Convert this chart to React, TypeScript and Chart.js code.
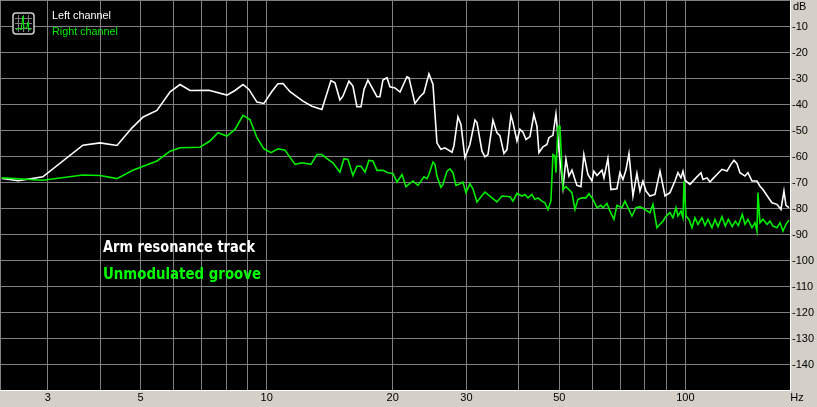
import React, { useEffect, useRef } from "react";
import { Chart, registerables } from "chart.js";

Chart.register(...registerables);

// Left channel (white) – frequency (Hz) and level (dB)
const leftFreq = [2.33, 2.55, 2.92, 3.64, 4.0, 4.39, 4.77, 5.07, 5.47, 5.88, 6.21, 6.56, 7.28, 8.04, 8.4, 8.78, 9.07, 9.48, 9.85, 10.3, 10.64, 10.94, 11.37, 12.21, 12.83, 13.55, 14.24, 14.56, 14.96, 15.21, 15.72, 16.07, 16.43, 16.8, 17.08, 17.45, 18.34, 18.64, 18.95, 19.38, 19.7, 20.25, 20.82, 21.63, 21.87, 22.6, 23.23, 23.75, 24.41, 24.96, 25.51, 26.07, 26.65, 27.71, 28.01, 28.63, 29.11, 29.75, 30.58, 31.44, 31.79, 32.68, 33.22, 33.77, 34.71, 35.48, 36.07, 36.87, 37.49, 38.32, 38.75, 39.61, 40.26, 40.94, 41.63, 42.55, 43.47, 44.21, 44.7, 45.7, 46.71, 47.22, 48.28, 49.08, 49.35, 49.89, 51.02, 51.86, 52.72, 53.6, 54.49, 55.08, 56.31, 57.23, 58.51, 59.81, 60.47, 61.5, 63.22, 63.92, 65.31, 66.42, 68.63, 69.78, 70.95, 72.12, 73.34, 74.97, 76.61, 77.91, 79.19, 80.52, 82.3, 84.6, 86.98, 89.42, 91.88, 94.45, 96.01, 97.61, 98.7, 99.79, 102.57, 106.0, 108.96, 110.17, 112.61, 114.49, 116.39, 118.99, 122.3, 125.71, 128.5, 130.64, 132.81, 135.03, 138.78, 141.09, 144.25, 148.26, 150.72, 153.22, 156.63, 161.0, 165.49, 169.16, 171.99, 173.9, 176.8];
const leftDb = [-68.4, -69.3, -67.8, -55.6, -54.7, -55.7, -48.9, -44.7, -42.2, -35.0, -32.2, -34.5, -34.4, -36.3, -34.5, -32.2, -34.1, -39.0, -39.5, -34.8, -31.9, -31.8, -35.0, -38.6, -40.6, -41.8, -30.7, -31.5, -38.2, -36.7, -30.9, -32.8, -40.8, -40.8, -34.1, -30.5, -36.9, -36.9, -30.5, -29.6, -33.1, -33.5, -35.1, -29.2, -29.6, -39.5, -36.9, -35.4, -28.1, -32.2, -54.7, -57.2, -56.6, -58.3, -55.8, -44.7, -47.6, -60.4, -55.3, -45.9, -46.9, -57.9, -60.1, -59.2, -45.9, -50.8, -51.9, -58.8, -57.3, -44.1, -46.9, -54.0, -49.5, -50.6, -53.4, -52.3, -43.8, -48.3, -58.5, -56.2, -55.3, -52.7, -51.8, -43.5, -47.6, -57.2, -72.0, -61.1, -67.5, -65.2, -68.8, -71.1, -71.6, -59.2, -66.9, -69.4, -65.6, -67.3, -65.2, -68.2, -60.8, -72.7, -72.4, -66.2, -68.8, -65.2, -58.8, -75.2, -66.5, -73.3, -69.4, -73.3, -75.2, -74.6, -65.6, -75.2, -73.9, -69.4, -66.2, -68.2, -65.6, -69.1, -70.7, -68.2, -66.2, -68.8, -68.2, -69.8, -68.5, -66.9, -64.9, -65.6, -63.0, -61.4, -62.7, -66.2, -67.5, -66.2, -69.4, -69.4, -71.4, -72.7, -75.0, -77.8, -78.4, -80.4, -73.3, -78.8, -79.7];

// Right channel (green)
const rightFreq = [2.33, 2.92, 3.64, 4.0, 4.39, 4.79, 5.47, 5.88, 6.21, 6.93, 7.32, 7.65, 8.04, 8.4, 8.78, 9.12, 9.48, 9.85, 10.24, 10.64, 11.06, 11.69, 12.14, 12.76, 13.19, 13.55, 13.93, 14.4, 14.96, 15.3, 15.64, 16.07, 16.43, 16.8, 17.18, 17.55, 17.94, 18.34, 18.95, 19.49, 20.03, 20.48, 21.05, 21.51, 22.35, 22.98, 23.75, 24.15, 24.41, 24.96, 25.23, 25.51, 26.07, 26.37, 26.96, 27.41, 27.86, 28.32, 28.8, 29.43, 29.92, 30.58, 31.09, 31.79, 32.68, 33.22, 34.14, 35.48, 36.48, 38.11, 38.75, 39.61, 40.71, 41.4, 42.09, 43.0, 43.72, 44.46, 45.45, 46.2, 46.97, 47.75, 48.28, 48.82, 49.08, 49.63, 50.17, 50.74, 51.02, 51.86, 53.6, 54.49, 55.39, 56.62, 57.89, 58.86, 60.16, 61.5, 62.87, 63.57, 64.96, 66.05, 67.52, 68.63, 70.56, 71.74, 72.94, 74.56, 76.21, 77.91, 80.08, 82.3, 83.67, 85.53, 86.98, 88.45, 89.42, 90.89, 91.88, 93.42, 94.98, 96.01, 97.61, 98.7, 99.25, 100.35, 102.0, 103.71, 105.42, 107.18, 109.56, 111.38, 113.24, 115.76, 117.69, 119.65, 122.3, 124.56, 126.64, 129.45, 131.62, 133.81, 136.78, 138.78, 141.09, 144.25, 146.65, 148.26, 149.08, 150.72, 153.22, 156.63, 159.25, 161.89, 165.49, 168.27, 171.05, 173.9, 176.8];
const rightDb = [-68.2, -69.1, -67.1, -67.3, -68.5, -65.3, -61.7, -57.9, -56.6, -56.4, -54.0, -50.8, -52.1, -49.5, -44.1, -45.7, -52.7, -57.0, -58.5, -57.0, -57.5, -63.0, -62.4, -63.0, -59.2, -59.2, -60.8, -62.4, -66.0, -60.8, -61.1, -67.3, -63.7, -63.7, -66.0, -61.5, -61.7, -65.3, -65.3, -66.2, -66.5, -69.8, -66.9, -71.6, -69.4, -71.1, -67.8, -68.5, -66.9, -62.1, -63.0, -67.5, -71.8, -70.7, -65.6, -64.7, -66.2, -71.1, -70.7, -69.8, -73.9, -70.5, -72.4, -77.5, -75.0, -73.7, -75.2, -77.5, -75.2, -75.5, -77.2, -74.2, -75.2, -74.6, -75.9, -74.6, -76.5, -75.9, -77.2, -77.8, -80.4, -77.0, -59.2, -59.8, -66.2, -48.3, -48.3, -65.0, -72.7, -71.6, -73.9, -80.4, -76.5, -75.9, -75.9, -74.3, -76.5, -79.7, -78.8, -79.7, -78.1, -81.0, -84.2, -78.8, -79.7, -77.2, -79.7, -82.9, -79.7, -79.3, -80.4, -81.7, -78.4, -87.4, -86.1, -84.9, -83.6, -82.3, -81.6, -83.6, -79.7, -82.9, -81.0, -83.6, -69.4, -82.9, -84.2, -87.4, -83.6, -86.1, -83.6, -86.6, -84.2, -87.4, -84.2, -87.0, -83.2, -86.8, -84.2, -87.0, -84.9, -86.6, -82.3, -86.1, -84.2, -87.4, -85.5, -88.7, -73.9, -85.5, -84.2, -86.1, -84.9, -86.8, -87.4, -85.5, -88.7, -86.1, -84.5];

const xGridValues = [3, 4, 5, 6, 7, 8, 9, 10, 20, 30, 40, 50, 60, 70, 80, 90, 100];
const xTickLabels = [3, 5, 10, 20, 30, 50, 100];
const yTickLabels = [-10, -20, -30, -40, -50, -60, -70, -80, -90, -100, -110, -120, -130, -140];
const seriesNames = ["Left channel", "Right channel"];
const annotations = ["Arm resonance track", "Unmodulated groove"];

const WHITE = "#ffffff";
const GREEN = "#00ee00";

export default function App() {
  const ref = useRef<HTMLCanvasElement | null>(null);

  useEffect(() => {
    document.body.style.margin = "0";
    const canvas = ref.current;
    if (!canvas) return;

    const framePlugin = {
      id: "frame",
      beforeDraw(chart: any) {
        const { ctx, chartArea: a, width, height } = chart;
        ctx.save();
        ctx.fillStyle = "#d4d0c8";
        ctx.fillRect(0, 0, width, height);
        ctx.fillStyle = "#000000";
        ctx.fillRect(a.left, a.top, a.right - a.left, a.bottom - a.top);
        ctx.restore();
      },
      afterDraw(chart: any) {
        const { ctx, chartArea: a } = chart;
        const xs = chart.scales.x;
        const ys = chart.scales.y;
        ctx.save();
        // sunken frame
        ctx.lineWidth = 1;
        ctx.strokeStyle = "#808080";
        ctx.beginPath();
        ctx.moveTo(a.left - 0.5, a.bottom);
        ctx.lineTo(a.left - 0.5, a.top - 0.5);
        ctx.lineTo(a.right, a.top - 0.5);
        ctx.stroke();
        ctx.strokeStyle = "#ffffff";
        ctx.beginPath();
        ctx.moveTo(a.left - 1, a.bottom + 0.5);
        ctx.lineTo(a.right + 0.5, a.bottom + 0.5);
        ctx.lineTo(a.right + 0.5, a.top - 1);
        ctx.stroke();

        // axis labels
        ctx.fillStyle = "#000000";
        ctx.font = "11px 'Liberation Sans', Arial, sans-serif";
        ctx.textBaseline = "middle";
        ctx.textAlign = "left";
        yTickLabels.forEach((v) => {
          ctx.fillText(String(v), a.right + 2, ys.getPixelForValue(v) + 0.5);
        });
        ctx.fillText("dB", a.right + 3, 7);
        ctx.textAlign = "center";
        xTickLabels.forEach((v) => {
          ctx.fillText(String(v), xs.getPixelForValue(v), a.bottom + 7.5);
        });
        ctx.fillText("Hz", a.right + 7, a.bottom + 8);

        // legend icon
        const ix = 13, iy = 13, is = 21;
        ctx.fillStyle = "#000000";
        ctx.strokeStyle = "#d0d0d0";
        ctx.lineWidth = 1.5;
        ctx.beginPath();
        (ctx as any).roundRect(ix, iy, is, is, 3);
        ctx.fill();
        ctx.stroke();
        ctx.strokeStyle = "#808080";
        ctx.lineWidth = 1;
        for (let i = 1; i <= 3; i++) {
          ctx.beginPath();
          ctx.moveTo(ix + 2, iy + i * 5 + 0.5);
          ctx.lineTo(ix + is - 2, iy + i * 5 + 0.5);
          ctx.stroke();
          ctx.beginPath();
          ctx.moveTo(ix + i * 5 + 0.5, iy + 2);
          ctx.lineTo(ix + i * 5 + 0.5, iy + is - 2);
          ctx.stroke();
        }
        ctx.strokeStyle = GREEN;
        ctx.beginPath();
        ctx.moveTo(ix + 3, iy + 17);
        ctx.lineTo(ix + 6, iy + 15);
        ctx.lineTo(ix + 8, iy + 17);
        ctx.lineTo(ix + 10, iy + 3);
        ctx.lineTo(ix + 11, iy + 16);
        ctx.lineTo(ix + 14, iy + 14);
        ctx.lineTo(ix + 15, iy + 9);
        ctx.lineTo(ix + 16, iy + 17);
        ctx.lineTo(ix + 18, iy + 16);
        ctx.stroke();

        // legend text
        ctx.textAlign = "left";
        ctx.textBaseline = "alphabetic";
        ctx.font = "11px 'Liberation Sans', Arial, sans-serif";
        ctx.fillStyle = WHITE;
        ctx.fillText(seriesNames[0], 52, 19, 59);
        ctx.fillStyle = GREEN;
        ctx.fillText(seriesNames[1], 52, 35, 66);

        // annotations
        ctx.font = "bold 16px 'DejaVu Sans', sans-serif";
        ctx.fillStyle = WHITE;
        ctx.fillText(annotations[0], 103, 252, 152);
        ctx.fillStyle = "#00ff00";
        ctx.fillText(annotations[1], 103, 279, 158);
        ctx.restore();
      },
    };

    const chart = new Chart(canvas, {
      type: "line",
      data: {
        datasets: [
          {
            label: seriesNames[1],
            data: rightFreq.map((f, i) => ({ x: f, y: rightDb[i] })),
            borderColor: GREEN,
            borderWidth: 1.6,
            pointRadius: 0,
            tension: 0,
            order: 0,
          },
          {
            label: seriesNames[0],
            data: leftFreq.map((f, i) => ({ x: f, y: leftDb[i] })),
            borderColor: WHITE,
            borderWidth: 1.6,
            pointRadius: 0,
            tension: 0,
            order: 1,
          },
        ],
      },
      options: {
        animation: false,
        responsive: false,
        maintainAspectRatio: false,
        parsing: false as any,
        layout: { padding: { left: 1, top: 1, right: 27, bottom: 17 } },
        plugins: { legend: { display: false }, tooltip: { enabled: false } },
        scales: {
          x: {
            type: "logarithmic",
            min: 2.32,
            max: 177.8,
            afterBuildTicks: (scale: any) => {
              scale.ticks = xGridValues.map((v) => ({ value: v }));
            },
            ticks: { display: false },
            grid: { color: "#808080", lineWidth: 1, drawTicks: false },
            border: { display: false },
          },
          y: {
            type: "linear",
            position: "right",
            min: -150,
            max: 0,
            afterBuildTicks: (scale: any) => {
              scale.ticks = yTickLabels.map((v) => ({ value: v }));
            },
            ticks: { display: false },
            grid: { color: "#808080", lineWidth: 1, drawTicks: false },
            border: { display: false },
          },
        },
      },
      plugins: [framePlugin],
    });

    return () => chart.destroy();
  }, []);

  return (
    <div style={{ width: 817, height: 407, background: "#d4d0c8" }}>
      <canvas ref={ref} width={817} height={407} style={{ display: "block" }} />
    </div>
  );
}
